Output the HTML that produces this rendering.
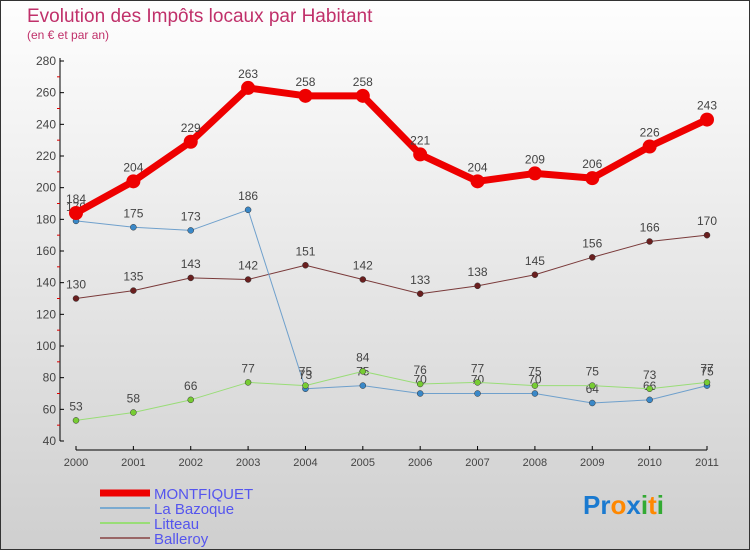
<!DOCTYPE html>
<html><head><meta charset="utf-8"><style>
body{margin:0;width:750px;height:550px;overflow:hidden;font-family:"Liberation Sans",sans-serif}
#wrap{position:absolute;left:0;top:0;width:748px;height:548px;border:1px solid #333;background:linear-gradient(#fefefe,#cfcfcf)}
</style></head><body>
<div id="wrap">
<svg id="svg" width="750" height="550" style="position:absolute;left:-1px;top:-1px">
<text x="27" y="22" font-size="19" fill="#c0306a">Evolution des Impôts locaux par Habitant</text>
<text x="27" y="39" font-size="12" fill="#c0306a">(en € et par an)</text>
</svg></div>
<script>
const years=['2000','2001','2002','2003','2004','2005','2006','2007','2008','2009','2010','2011'];
const yTicks=[40,60,80,100,120,140,160,180,200,220,240,260,280];
const montfiquet=[184,204,229,263,258,258,221,204,209,206,226,243];
const bazoque=[179,175,173,186,73,75,70,70,70,64,66,75];
const litteau=[53,58,66,77,75,84,76,77,75,75,73,77];
const balleroy=[130,135,143,142,151,142,133,138,145,156,166,170];
const NS='http://www.w3.org/2000/svg',svg=document.getElementById('svg');
const X=i=>76+i*(707-76)/11, Y=v=>441-(v-40)*380/240;
function mk(t,a,p){const e=document.createElementNS(NS,t);for(const k in a)e.setAttribute(k,a[k]);(p||svg).appendChild(e);return e;}
let ax=mk('line',{x1:60,y1:58,x2:60,y2:441,stroke:'#000'});


ax=mk('line',{x1:76,y1:450,x2:707,y2:450,stroke:'#000'});


yTicks.forEach((v,i)=>{mk('line',{x1:60,y1:Y(v),x2:64,y2:Y(v),stroke:'#000'});
 if(i<yTicks.length-1)mk('line',{x1:57,y1:Y(v+10),x2:60,y2:Y(v+10),stroke:'#d00'});
 const t=mk('text',{x:56,y:Y(v)+4,'text-anchor':'end','font-size':12,fill:'#444'});t.textContent=v;
 
 });
years.forEach((y,i)=>{mk('line',{x1:X(i),y1:446,x2:X(i),y2:450,stroke:'#000'});
 const t=mk('text',{x:X(i),y:466,'text-anchor':'middle','font-size':11,fill:'#444'});t.textContent=y;
 
 });
function series(d,col,dot,w,r,name,lbl){
 const g=mk('g',{});
 
 
 mk('polyline',{points:d.map((v,i)=>X(i)+','+Y(v)).join(' '),fill:'none',stroke:col,'stroke-width':w,'stroke-linejoin':'round'},g);
 d.forEach((v,i)=>{const c=mk('circle',{cx:X(i),cy:Y(v),r:r,fill:dot,stroke:r>3?'none':'#333','stroke-width':0.5},g);
  
  
  if(lbl){const t=mk('text',{x:X(i),y:Y(v)-10,'text-anchor':'middle','font-size':12,fill:'#444'},g);t.textContent=v;}});
}
series(balleroy,'#7a3a3a','#6a1f1f',1,3,'series-balleroy',true);
series(bazoque,'#6fa0cc','#3a88c8',1,3,'series-la-bazoque',true);
series(litteau,'#99dd77','#77cc33',1,3,'series-litteau',true);
series(montfiquet,'#ee0000','#ee0000',7,7,'series-montfiquet',true);
const leg=[['MONTFIQUET','#ee0000',7],['La Bazoque','#7aaad0',2],['Litteau','#99dd77',2],['Balleroy','#996666',2]];
leg.forEach((l,i)=>{const g=mk('g',{});
 
 
 const y=493+i*15;
 mk('line',{x1:100,y1:y,x2:150,y2:y,stroke:l[1],'stroke-width':l[2]},g);
 const t=mk('text',{x:154,y:y+6,'font-size':15,fill:'#5555ee'},g);t.textContent=l[0];});
const logo=mk('text',{x:583,y:514,'font-size':26,'font-weight':'bold'});


[['Pr','#1a7ad0'],['o','#ff8800'],['x','#1a7ad0'],['i','#33aa33'],['t','#ff8800'],['i','#33aa33']].forEach(p=>{const s=mk('tspan',{fill:p[1]},logo);s.textContent=p[0];});
</script></body></html>
